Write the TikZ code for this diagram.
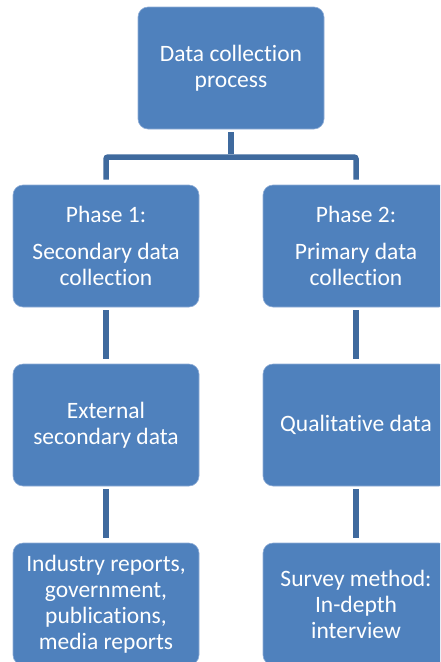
\documentclass[tikz,border=0pt]{standalone}
\usepackage{fontspec}
\setmainfont{Carlito}[Ligatures=NoCommon]
\definecolor{boxfill}{HTML}{4F81BD}
\definecolor{boxedge}{HTML}{8FADD6}
\definecolor{linkcol}{HTML}{3F6A9E}
\begin{document}
\begin{tikzpicture}[x=1pt,y=-1pt,
  stage/.style={rectangle, rounded corners=10pt, fill=boxfill, draw=boxedge,
    line width=0.6pt, minimum width=186pt, minimum height=122pt,
    inner sep=0pt, align=center, text=white,
    font=\fontsize{23.5}{26}\selectfont},
  conn/.style={draw=linkcol, line width=5.5pt}]
\useasboundingbox (0,0) rectangle (440,662);
\clip (0,0) rectangle (440,662);

% boxes
\node[stage] (top) at (231,68) {Data collection\\process};
\node[stage] (p1) at (106,246) {Phase 1:\\[11pt]Secondary data\\collection};
\node[stage] (p2) at (356,246) {Phase 2:\\[11pt]Primary data\\collection};
\node[stage] (e1) at (106,425) {External\\secondary data};
\node[stage] (e2) at (356,425) {Qualitative data};
\node[stage] (s1) at (106,604) {Industry reports,\\government,\\publications,\\media reports};
\node[stage] (s2) at (356,604) {Survey method:\\In-depth\\interview};

% branching connector
\coordinate (fork) at (231,157);
\draw[conn, shorten <=3pt] (top.south) -- ([yshift=2.75pt]fork);
\draw[conn, rounded corners=2pt, shorten <=5pt, shorten >=5pt]
  (p1.north) |- (fork) -| (p2.north);

% straight connectors
\draw[conn, shorten <=3pt, shorten >=5pt] (p1.south) -- (e1.north);
\draw[conn, shorten <=3pt, shorten >=5pt] (p2.south) -- (e2.north);
\draw[conn, shorten <=3pt, shorten >=5pt] (e1.south) -- (s1.north);
\draw[conn, shorten <=3pt, shorten >=5pt] (e2.south) -- (s2.north);
\end{tikzpicture}
\end{document}
